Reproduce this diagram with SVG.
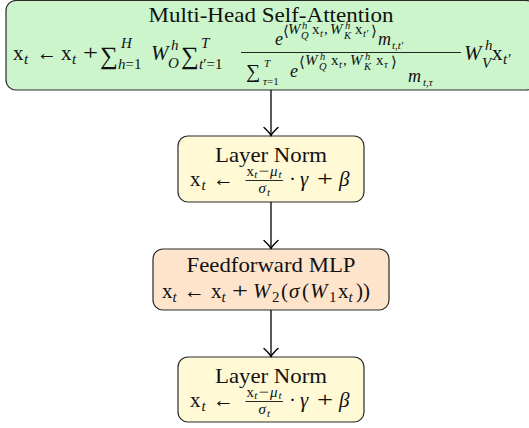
<svg xmlns="http://www.w3.org/2000/svg" width="529" height="428" viewBox="0 0 529 428">
<style>
text{font-family:"Liberation Serif","DejaVu Serif",serif;fill:#111}
.i{font-style:italic}
.a{font-size:21px}
.b{font-size:15px}
.c{font-size:11px}
.d{font-size:18px}
.e{font-size:15px}
.f{font-size:10.5px}
.box{stroke:#2a2a2a;stroke-width:1.2}
.bar{stroke:#111;stroke-width:0.9}
.con line{stroke:#000;stroke-width:1.3}
</style>
<defs>
<marker id="arr" markerUnits="userSpaceOnUse" markerWidth="20" markerHeight="20" refX="10" refY="10" orient="auto" viewBox="0 0 20 20" overflow="visible">
<path d="M2,3 Q7,8.5 10,10 Q7,11.5 2,17" fill="none" stroke="#000" stroke-width="1.4" stroke-linecap="round"/>
</marker>
</defs>

<g id="mhsa">
<rect class="box" x="6" y="0.5" width="530" height="89.5" rx="10" fill="#ccf5cc"/>
<text class="a" x="271" y="22" text-anchor="middle" textLength="245" lengthAdjust="spacingAndGlyphs">Multi-Head Self-Attention</text>
<text class="a" x="13" y="60">x</text><text class="b i" x="24" y="64">t</text>
<text class="a" x="37" y="60" textLength="20" lengthAdjust="spacingAndGlyphs">←</text>
<text class="a" x="61" y="60">x</text><text class="b i" x="72" y="64">t</text>
<text class="a" x="83" y="60" textLength="15" lengthAdjust="spacingAndGlyphs">+</text>
<text x="100" y="64" style="font-size:25px">∑</text>
<text class="b i" x="121" y="48">H</text>
<text class="b" x="118" y="69"><tspan class="i">h</tspan>=1</text>
<text class="a i" x="151" y="60">W</text>
<text class="b i" x="171" y="50">h</text><text class="b i" x="168" y="68">O</text>
<text x="181" y="64" style="font-size:25px">∑</text>
<text class="b i" x="201" y="48">T</text>
<text class="b" x="199" y="69"><tspan class="i">t</tspan>′=1</text>
<line class="bar" x1="241" y1="52.5" x2="461" y2="52.5"/>
<text class="d i" x="275" y="45">e</text>
<text class="e" x="283" y="36">⟨</text>
<text class="e i" x="288" y="34">W</text><text class="f i" x="302" y="29">h</text><text class="f i" x="301" y="39">Q</text>
<text class="e" x="312" y="34">x</text><text class="f i" x="320" y="37">t</text>
<text class="e" x="324" y="34">,</text>
<text class="e i" x="330" y="34">W</text><text class="f i" x="345" y="29">h</text><text class="f i" x="344" y="39">K</text>
<text class="e" x="355" y="34">x</text><text class="f i" x="363" y="37">t′</text>
<text class="e" x="371" y="36">⟩</text>
<text class="d i" x="378" y="45">m</text>
<text class="c i" x="392" y="49">t<tspan font-style="normal">,</tspan>t′</text>
<text x="246" y="78" style="font-size:20px">∑</text>
<text class="c i" x="264" y="67">T</text>
<text class="c" x="263" y="85"><tspan class="i">τ</tspan>=1</text>
<text class="d i" x="290" y="77">e</text>
<text class="e" x="299" y="67">⟨</text>
<text class="e i" x="305" y="65">W</text><text class="f i" x="320" y="60">h</text><text class="f i" x="319" y="70">Q</text>
<text class="e" x="331" y="65">x</text><text class="f i" x="339" y="68">t</text>
<text class="e" x="343" y="65">,</text>
<text class="e i" x="350" y="65">W</text><text class="f i" x="365" y="60">h</text><text class="f i" x="364" y="70">K</text>
<text class="e" x="376" y="65">x</text><text class="f i" x="384" y="68">τ</text>
<text class="e" x="391" y="67">⟩</text>
<text class="d i" x="408" y="82">m</text>
<text class="c i" x="423" y="86">t<tspan font-style="normal">,</tspan>τ</text>
<text class="a i" x="464" y="60">W</text>
<text class="b i" x="485" y="50">h</text><text class="b i" x="482" y="68">V</text>
<text class="a" x="492" y="60">x</text><text class="b i" x="503" y="64">t′</text>
</g>

<g id="ln1">
<rect class="box" x="178" y="136" width="186" height="66" rx="10" fill="#fff9d6"/>
<text class="a" x="271" y="162" text-anchor="middle" textLength="112" lengthAdjust="spacingAndGlyphs">Layer Norm</text>
<text class="a" x="190" y="186">x</text><text class="b i" x="201.5" y="190">t</text>
<text class="a" x="213" y="186" textLength="21" lengthAdjust="spacingAndGlyphs">←</text>
<line class="bar" x1="245.5" y1="180.5" x2="283" y2="180.5"/>
<text class="b" x="246.5" y="175.5">x</text><text class="c i" x="254.3" y="178">t</text>
<text class="b" x="258.5" y="175.5" textLength="10.5" lengthAdjust="spacingAndGlyphs">−</text>
<text class="b i" x="270" y="175.5">μ</text><text class="c i" x="278.5" y="178">t</text>
<text class="b i" x="258.5" y="193">σ</text><text class="c i" x="267" y="195.5">t</text>
<text class="a" x="289" y="186">·</text>
<text class="a i" x="300" y="186">γ</text>
<text class="a" x="317" y="186" textLength="16" lengthAdjust="spacingAndGlyphs">+</text>
<text class="a i" x="339" y="186">β</text>
</g>

<g id="mlp">
<rect class="box" x="153" y="249" width="236" height="61" rx="10" fill="#ffe4cc"/>
<text class="a" x="271" y="272" text-anchor="middle" textLength="169" lengthAdjust="spacingAndGlyphs">Feedforward MLP</text>
<text class="a" x="162" y="298">x</text><text class="b i" x="172.5" y="302">t</text>
<text class="a" x="184" y="298" textLength="21" lengthAdjust="spacingAndGlyphs">←</text>
<text class="a" x="211" y="298">x</text><text class="b i" x="221.5" y="302">t</text>
<text class="a" x="232" y="298" textLength="16" lengthAdjust="spacingAndGlyphs">+</text>
<text class="a i" x="253" y="298">W</text><text class="b" x="272" y="302">2</text>
<text class="a" x="281" y="298">(</text>
<text class="a i" x="289" y="298">σ</text>
<text class="a" x="302" y="298">(</text>
<text class="a i" x="310" y="298">W</text><text class="b" x="329" y="302">1</text>
<text class="a" x="338" y="298">x</text><text class="b i" x="348.5" y="302">t</text>
<text class="a" x="356" y="298">))</text>
</g>

<g id="ln2">
<rect class="box" x="178" y="357" width="186" height="65" rx="10" fill="#fff9d6"/>
<text class="a" x="271" y="383" text-anchor="middle" textLength="112" lengthAdjust="spacingAndGlyphs">Layer Norm</text>
<text class="a" x="190" y="407">x</text><text class="b i" x="201.5" y="411">t</text>
<text class="a" x="213" y="407" textLength="21" lengthAdjust="spacingAndGlyphs">←</text>
<line class="bar" x1="245.5" y1="401.5" x2="283" y2="401.5"/>
<text class="b" x="246.5" y="396.5">x</text><text class="c i" x="254.3" y="399">t</text>
<text class="b" x="258.5" y="396.5" textLength="10.5" lengthAdjust="spacingAndGlyphs">−</text>
<text class="b i" x="270" y="396.5">μ</text><text class="c i" x="278.5" y="399">t</text>
<text class="b i" x="258.5" y="414">σ</text><text class="c i" x="267" y="416.5">t</text>
<text class="a" x="289" y="407">·</text>
<text class="a i" x="300" y="407">γ</text>
<text class="a" x="317" y="407" textLength="16" lengthAdjust="spacingAndGlyphs">+</text>
<text class="a i" x="339" y="407">β</text>
</g>

<g id="connectors" class="con">
<line x1="271" y1="90" x2="271" y2="135.5" marker-end="url(#arr)"/>
<line x1="271" y1="202" x2="271" y2="248.5" marker-end="url(#arr)"/>
<line x1="271" y1="310" x2="271" y2="356.5" marker-end="url(#arr)"/>
</g>
</svg>
